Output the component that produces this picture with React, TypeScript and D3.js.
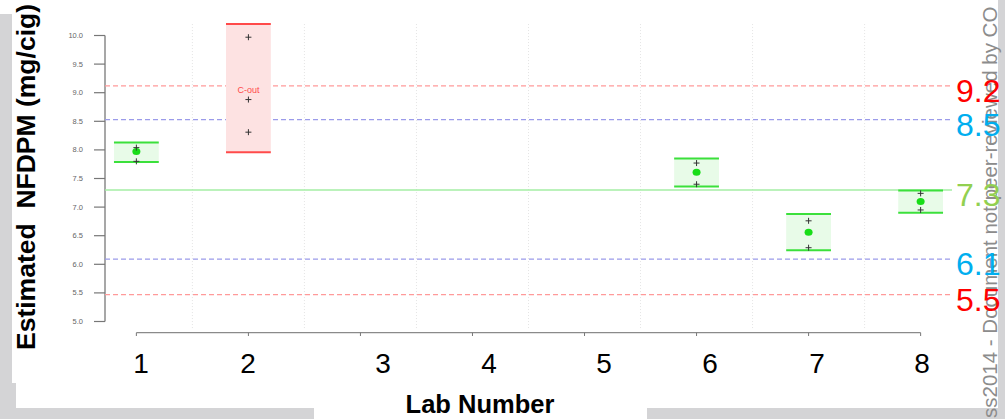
import * as d3 from 'd3'

// Lab results (NFDPM, mg/cig)
const LABS = [1, 2, 6, 7, 8]
const REPLICATES = [
  [8.04, 7.80],
  [9.97, 8.88, 8.31],
  [7.77, 7.40],
  [6.76, 6.29],
  [7.24, 6.95],
]
const MEANS = [7.97, 9.05, 7.61, 6.56, 7.10]
const LOWER = [7.79, 7.96, 7.36, 6.245, 6.90]
const UPPER = [8.13, 10.20, 7.85, 6.88, 7.29]
const STATUS = ['ok', 'C-out', 'ok', 'ok', 'ok']

// Consensus and limit lines
const REF_VALUES = [9.12, 8.53, 7.30, 6.09, 5.47]
const REF_LABELS = ['9.2', '8.5', '7.3', '6.1', '5.5']
const REF_KIND = ['outer', 'inner', 'mean', 'inner', 'outer']

const X_TICKS = [1, 2, 3, 4, 5, 6, 7, 8]
const X_LABELS = ['1', '2', '3', '4', '5', '6', '7', '8']
const Y_TICKS = [5.0, 5.5, 6.0, 6.5, 7.0, 7.5, 8.0, 8.5, 9.0, 9.5, 10.0]
const GRID = [1.5, 2.5, 3.5, 4.5, 5.5, 6.5, 7.5]

// the big lab numbers were pasted over the plot as separate text boxes,
// so they don't sit exactly on the ticks
const LABEL_X = [141, 248, 383, 489, 604, 710, 817, 922]

const W = 1005
const H = 419
const FONT = 'Liberation Sans, Arial, sans-serif'
const GREY = '#d4d4d6'

const REF_STYLE: Record<string, { stroke: string; dash?: string; text: string }> = {
  outer: { stroke: '#ff9a9a', dash: '5,3', text: '#ff0000' },
  inner: { stroke: '#9b9bea', dash: '5,3', text: '#00aeef' },
  mean: { stroke: '#a4eea4', text: '#92d050' },
}

const x = d3.scaleLinear().domain([0.72, 8.28]).range([105, 952])
const y = d3.scaleLinear().domain([5, 10]).range([321.5, 35.5])

export default function App() {
  const boxHalf = 0.2
  return (
    <svg
      width={W}
      height={H}
      style={{ position: 'absolute', left: 0, top: 0, background: '#fff' }}
      fontFamily={FONT}
    >
      {/* slide frame */}
      <rect x={0} y={14} width={12} height={H - 14} fill={GREY} />
      <rect x={0} y={383} width={16} height={36} fill={GREY} />
      <rect x={0} y={408} width={314} height={11} fill={GREY} />
      <rect x={647} y={408} width={W - 647} height={11} fill={GREY} />
      <rect x={998} y={0} width={7} height={H} fill={GREY} />

      {/* vertical grid */}
      {GRID.map((g) => (
        <line
          key={g}
          x1={x(g)} x2={x(g)} y1={y(10.2)} y2={y(4.85)}
          stroke="#e4e4e4" strokeDasharray="1,2" strokeWidth={1}
        />
      ))}

      {/* y axis */}
      <line x1={x(0.72)} x2={x(0.72)} y1={y(10)} y2={y(5)} stroke="#8a8a8a" strokeWidth={1.5} />
      {Y_TICKS.map((t) => (
        <g key={t}>
          <line x1={x(0.72) - 11} x2={x(0.72)} y1={y(t)} y2={y(t)} stroke="#777" strokeWidth={1.2} />
          <text x={83} y={y(t) + 2.5} textAnchor="end" fontSize={7.5} fill="#666">
            {t.toFixed(1)}
          </text>
        </g>
      ))}

      {/* x axis */}
      <line x1={x(1)} x2={x(8)} y1={332.7} y2={332.7} stroke="#8a8a8a" strokeWidth={1.3} />
      {X_TICKS.map((t) => (
        <line key={t} x1={x(t)} x2={x(t)} y1={332.7} y2={336} stroke="#777" strokeWidth={1} />
      ))}
      {X_LABELS.map((l, i) => (
        <text key={l} x={LABEL_X[i]} y={373} textAnchor="middle" fontSize={28} fill="#000">
          {l}
        </text>
      ))}

      {/* reference lines */}
      {REF_VALUES.map((v, i) => {
        const s = REF_STYLE[REF_KIND[i]]
        return (
          <line
            key={i}
            x1={x(0.72)} x2={x(8.28)} y1={y(v)} y2={y(v)}
            stroke={s.stroke} strokeWidth={1.4} strokeDasharray={s.dash}
          />
        )
      })}

      {/* lab boxes */}
      {LABS.map((lab, i) => {
        const out = STATUS[i] !== 'ok'
        const fill = out ? '#fde2e2' : '#e8fbe8'
        const edge = out ? '#ff4a4a' : '#3be03b'
        const x0 = x(lab - boxHalf)
        const x1 = x(lab + boxHalf)
        return (
          <g key={lab}>
            <rect x={x0} y={y(UPPER[i])} width={x1 - x0} height={y(LOWER[i]) - y(UPPER[i])} fill={fill} />
            <line x1={x0} x2={x1} y1={y(UPPER[i])} y2={y(UPPER[i])} stroke={edge} strokeWidth={2} />
            <line x1={x0} x2={x1} y1={y(LOWER[i])} y2={y(LOWER[i])} stroke={edge} strokeWidth={2} />
            {out ? (
              <text x={x(lab)} y={y(MEANS[i]) + 3} textAnchor="middle" fontSize={9} fill="#ff4a4a">
                {STATUS[i]}
              </text>
            ) : (
              <ellipse cx={x(lab)} cy={y(MEANS[i])} rx={4} ry={3.5} fill="#18dd18" />
            )}
            {REPLICATES[i].map((r, j) => (
              <path
                key={j}
                d={`M${x(lab) - 3},${y(r)}h6M${x(lab)},${y(r) - 3}v6`}
                stroke="#333" strokeWidth={1}
              />
            ))}
          </g>
        )
      })}

      {/* watermark */}
      <text
        transform="translate(997,418) rotate(-90)"
        fontSize={20.5}
        fill="#8c8c8c"
      >
        ss2014 - Document not peer-reviewed by CO
      </text>

      {/* right-hand value labels */}
      {REF_VALUES.map((v, i) => (
        <text key={i} x={956} y={y(v) + 16} fontSize={32} fill={REF_STYLE[REF_KIND[i]].text}>
          {REF_LABELS[i]}
        </text>
      ))}

      {/* axis titles */}
      <text
        transform="translate(35,177) rotate(-90)"
        textAnchor="middle"
        fontSize={26.5}
        fontWeight="bold"
        fill="#000"
        style={{ whiteSpace: 'pre' }}
      >
        {'Estimated  NFDPM (mg/cig)'}
      </text>
      <text x={480} y={412.5} textAnchor="middle" fontSize={25.5} fontWeight="bold" fill="#000">
        Lab Number
      </text>
    </svg>
  )
}
